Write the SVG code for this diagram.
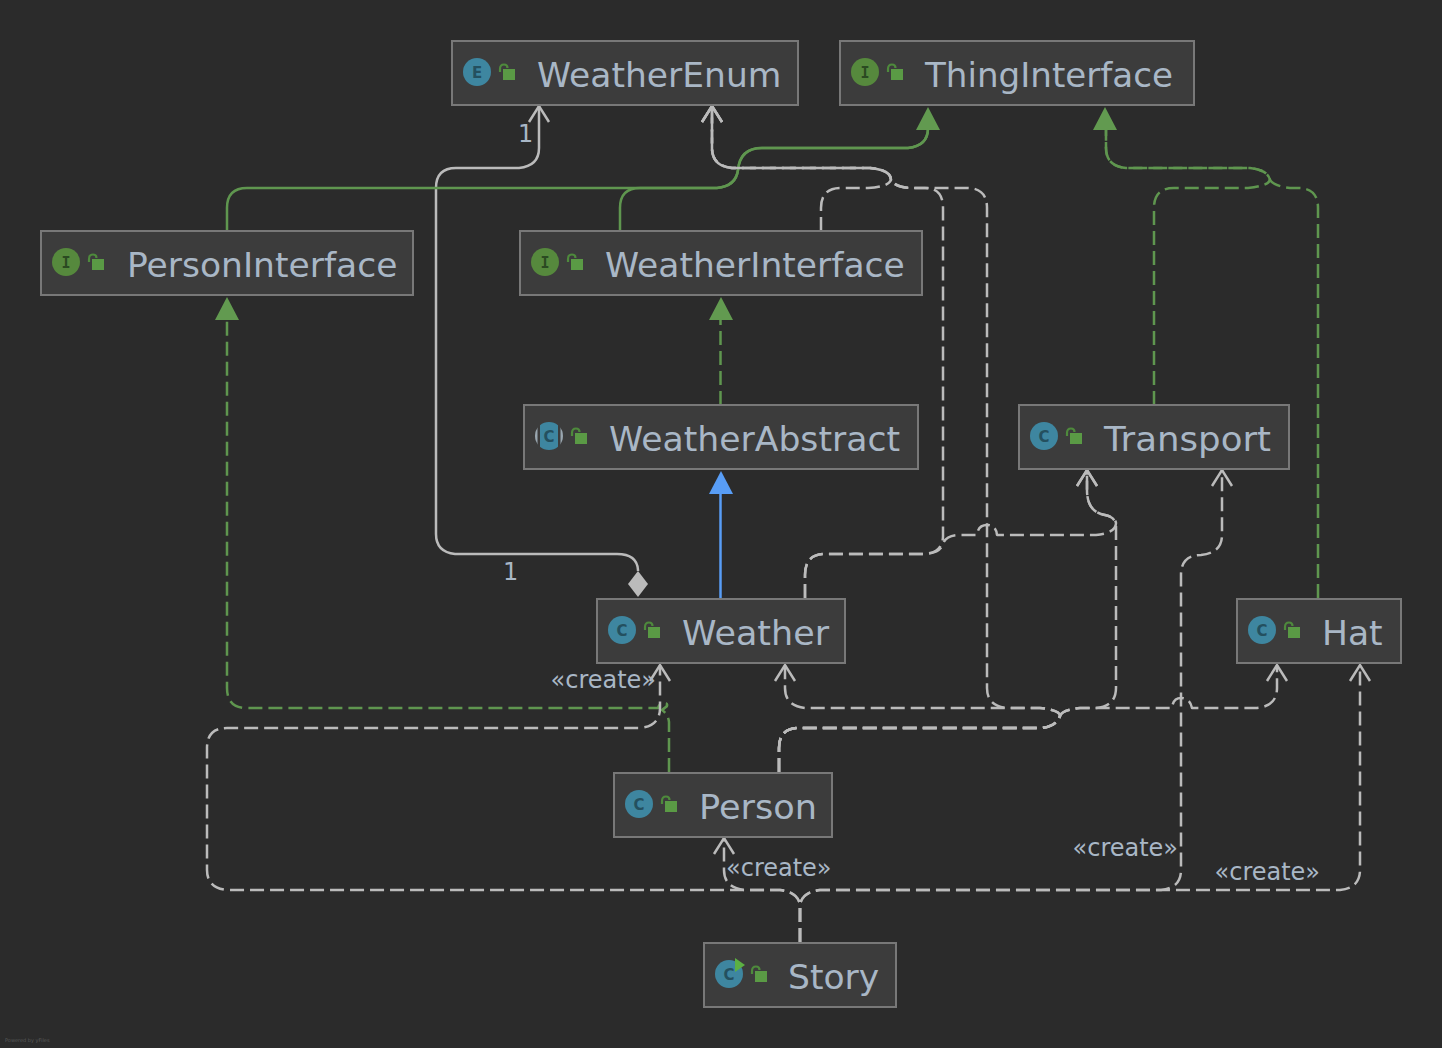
<svg xmlns="http://www.w3.org/2000/svg" xmlns:xlink="http://www.w3.org/1999/xlink" width="1442" height="1048" viewBox="0 0 1442 1048">
<style>
.n{fill:#3c3c3c;stroke:#787878;stroke-width:2}
.t{font-family:"DejaVu Sans",sans-serif;font-size:34.500px;fill:#a9b7c6}
.l{font-family:"DejaVu Sans",sans-serif;font-size:24px;fill:#a9b7c6}
.k{font-family:"DejaVu Sans",sans-serif;font-size:15px;font-weight:bold;text-anchor:middle}
.m{font-family:"DejaVu Sans Mono",monospace;font-size:15px;font-weight:bold;text-anchor:middle}
.e{fill:none;stroke-width:2.500;stroke-linejoin:round}
.w{stroke:#bbbbbb}
.g{stroke:#5f964f}
.d{stroke-dasharray:14 6}
.ci{fill:#3e86a0}
.cg{fill:#56893d}
</style>
<defs>
<marker id="open" markerUnits="userSpaceOnUse" markerWidth="24" markerHeight="28" refX="19" refY="12" orient="auto" viewBox="0 0 24 24"><path d="M3,2 L19,12 L3,22" fill="none" stroke="#bbbbbb" stroke-width="2.500"/></marker>
<g id="lock"><rect x="26" y="-3" width="12" height="11" fill="#5a9a45"/><path d="M23,0 V-3 Q23,-7.500 27,-7.500 Q30.500,-7.500 30.500,-4" fill="none" stroke="#4e8a3c" stroke-width="2.200"/></g>
</defs>
<rect width="1442" height="1048" fill="#2b2b2b"/>
<g id="connectors">
<path id="e1" class="e w" marker-end="url(#open)" d="M638,571 V570 Q637,554 617,554 H455 Q436,552 436,534 V188 Q436,168 456,168 H519 Q539,166 539,148 V106"/>
<path id="e2" class="e g" d="M227,231 V208 Q227,188 247,188 H717 Q736,186 738,170 Q740,148 762,148 H908 Q928,146 928,128"/>
<path id="e3" class="e g" d="M620,231 V208 Q620,188 640,188 H717 Q736,186 738,170 Q740,148 762,148 H908 Q928,146 928,128"/>
<path id="e4" class="e g d" d="M720.500,405 V318"/>
<path id="e5" class="e" stroke="#589df6" d="M720.500,598 V492"/>
<path id="e6" class="e w d" marker-end="url(#open)" d="M821,231 V208 Q821,188 841,188 H868 Q888,187 891,180 Q891,170 870,168 H732 Q712,166 712,148 V106"/>
<path id="e7" class="e w d" marker-end="url(#open)" d="M805,598 V575 Q805,554 825,554 H925 Q943,552 943,536 V208 Q943,188 925,188 H910 Q895,187 891,180 Q891,170 870,168 H732 Q712,166 712,148 V106"/>
<path id="e8" class="e w d" marker-end="url(#open)" d="M805,598 V575 Q805,554 825,554 H925 Q940,553 943,544 Q946,535 960,535 H977 Q978,525 987,525 Q996,525 997,535 H1096 Q1116,533 1116,523 Q1115,517 1105,515 Q1087,512 1087,490 V470"/>
<path id="e9" class="e g d" d="M1154,405 V208 Q1154,188 1174,188 H1248 Q1268,186 1270,180 Q1268,170 1250,168 H1126 Q1106,166 1106,148 V128"/>
<path id="e10" class="e g d" d="M1318,598 V208 Q1318,188 1298,188 H1290 Q1274,186 1270,180 Q1268,170 1250,168 H1126 Q1106,166 1106,148 V128"/>
<path id="e11" class="e g d" d="M669,772 V722 Q668,714 662,710 Q666,707 667,706 Q668,702 662,703 Q659,704 658,708 H247 Q227,708 227,688 V318"/>
<path id="e12" class="e w d" marker-end="url(#open)" d="M779,772 V748 Q779,728 799,728 H1040 Q1056,727 1060,716 Q1060,710 1040,708 H805 Q785,706 785,688 V665"/>
<path id="e13" class="e w d" marker-end="url(#open)" d="M779,772 V748 Q779,728 799,728 H1040 Q1056,727 1060,716 Q1062,710 1080,708 H1172 Q1173,698 1181,698 Q1190,698 1192,708 H1257 Q1277,706 1277,688 V665"/>
<path id="e14" class="e w d" marker-end="url(#open)" d="M779,772 V748 Q779,728 799,728 H1040 Q1056,727 1060,716 Q1062,710 1080,708 H1096 Q1116,706 1116,688 V525 Q1115,517 1105,515 Q1087,512 1087,490 V470"/>
<path id="e15" class="e w d" marker-end="url(#open)" d="M779,772 V748 Q779,728 799,728 H1040 Q1056,727 1060,716 Q1060,710 1040,708 H1007 Q987,706 987,688 V208 Q987,188 967,188 H910 Q895,187 891,180 Q891,170 870,168 H732 Q712,166 712,148 V106"/>
<path id="e16" class="e w d" marker-end="url(#open)" d="M800,942 V905 Q798,892 780,890 H227 Q207,888 207,870 V748 Q207,728 227,728 H640 Q660,726 660,708 V665"/>
<path id="e17" class="e w d" marker-end="url(#open)" d="M800,942 V905 Q798,892 780,890 H745 Q724,888 724,870 V838"/>
<path id="e18" class="e w d" marker-end="url(#open)" d="M800,942 V905 Q802,892 820,890 H1161 Q1181,888 1181,870 V575 Q1181,555 1201,555 Q1222,553 1222,535 V470"/>
<path id="e19" class="e w d" marker-end="url(#open)" d="M800,942 V905 Q802,892 820,890 H1340 Q1360,888 1360,870 V665"/>
<path d="M928,107 L940,130 H916 Z M1105,107 L1117,130 H1093 Z M227,297 L239,320 H215 Z M721,297 L733,320 H709 Z" fill="#629a50"/>
<path d="M721,471 L733,494 H709 Z" fill="#589df6"/>
<path d="M638,571 L648,584 L638,597 L628,584 Z" fill="#bbbbbb"/>
</g>
<g id="WeatherEnum"><rect class="n" x="452" y="41" width="346" height="64"/><circle class="ci" cx="477" cy="72" r="14"/><text class="k" x="477" y="77.500" fill="#24505f">E</text><use xlink:href="#lock" href="#lock" x="477" y="72"/><text class="t" x="537" y="87">WeatherEnum</text></g>
<g id="ThingInterface"><rect class="n" x="840" y="41" width="354" height="64"/><circle class="cg" cx="865" cy="72" r="14"/><text class="m" x="865" y="77.500" fill="#2b4a22">I</text><use xlink:href="#lock" href="#lock" x="865" y="72"/><text class="t" x="925" y="87" textLength="248" lengthAdjust="spacingAndGlyphs">ThingInterface</text></g>
<g id="PersonInterface"><rect class="n" x="41" y="231" width="372" height="64"/><circle class="cg" cx="66" cy="262" r="14"/><text class="m" x="66" y="267.500" fill="#2b4a22">I</text><use xlink:href="#lock" href="#lock" x="66" y="262"/><text class="t" x="127" y="277">PersonInterface</text></g>
<g id="WeatherInterface"><rect class="n" x="520" y="231" width="402" height="64"/><circle class="cg" cx="545" cy="262" r="14"/><text class="m" x="545" y="267.500" fill="#2b4a22">I</text><use xlink:href="#lock" href="#lock" x="545" y="262"/><text class="t" x="605" y="277">WeatherInterface</text></g>
<g id="WeatherAbstract"><rect class="n" x="524" y="405" width="394" height="64"/><circle cx="549" cy="436" r="14" fill="#9aa7b0"/><rect x="537.500" y="421" width="23" height="30" fill="#3c3c3c"/><path class="ci" d="M540,425.300 A14,14 0 0 1 558,425.300 V446.700 A14,14 0 0 1 540,446.700 Z"/><text class="k" x="549" y="441.500" fill="#24505f">C</text><use xlink:href="#lock" href="#lock" x="549" y="436"/><text class="t" x="609" y="451" textLength="291" lengthAdjust="spacingAndGlyphs">WeatherAbstract</text></g>
<g id="Transport"><rect class="n" x="1019" y="405" width="270" height="64"/><circle class="ci" cx="1044" cy="436" r="14"/><text class="k" x="1044" y="441.500" fill="#24505f">C</text><use xlink:href="#lock" href="#lock" x="1044" y="436"/><text class="t" x="1104" y="451" textLength="167" lengthAdjust="spacingAndGlyphs">Transport</text></g>
<g id="Weather"><rect class="n" x="597" y="599" width="248" height="64"/><circle class="ci" cx="622" cy="630" r="14"/><text class="k" x="622" y="635.500" fill="#24505f">C</text><use xlink:href="#lock" href="#lock" x="622" y="630"/><text class="t" x="682" y="645" textLength="147" lengthAdjust="spacingAndGlyphs">Weather</text></g>
<g id="Hat"><rect class="n" x="1237" y="599" width="164" height="64"/><circle class="ci" cx="1262" cy="630" r="14"/><text class="k" x="1262" y="635.500" fill="#24505f">C</text><use xlink:href="#lock" href="#lock" x="1262" y="630"/><text class="t" x="1322" y="645">Hat</text></g>
<g id="Person"><rect class="n" x="614" y="773" width="218" height="64"/><circle class="ci" cx="639" cy="804" r="14"/><text class="k" x="639" y="809.500" fill="#24505f">C</text><use xlink:href="#lock" href="#lock" x="639" y="804"/><text class="t" x="699" y="819" textLength="118" lengthAdjust="spacingAndGlyphs">Person</text></g>
<g id="Story"><rect class="n" x="704" y="943" width="192" height="64"/><circle class="ci" cx="729" cy="974" r="14"/><text class="k" x="729" y="979.500" fill="#24505f">C</text><path d="M735,958 L745,965 L735,972 Z" fill="#5cb043"/><use xlink:href="#lock" href="#lock" x="729" y="974"/><text class="t" x="788" y="989">Story</text></g>
<g id="labels">
<text class="l" x="518" y="142">1</text>
<text class="l" x="503" y="580">1</text>
<text class="l" x="550.500" y="688">«create»</text>
<text class="l" x="726" y="876">«create»</text>
<text class="l" x="1072.500" y="856">«create»</text>
<text class="l" x="1214.500" y="880">«create»</text>
<text x="5" y="1042" font-family="'DejaVu Sans',sans-serif" font-size="5" fill="#5a5a5a">Powered by yFiles</text>
</g>
</svg>
